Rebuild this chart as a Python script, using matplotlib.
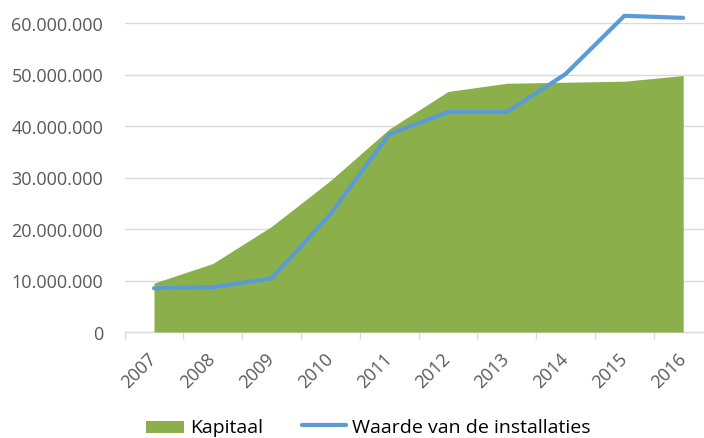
import matplotlib
matplotlib.use("Agg")
import matplotlib.pyplot as plt
from matplotlib.legend_handler import HandlerPatch
from matplotlib.patches import Rectangle, Patch
import numpy as np

years = ["2007", "2008", "2009", "2010", "2011", "2012", "2013", "2014", "2015", "2016"]
kapitaal = [9.5e6, 13.3e6, 20.5e6, 29.4e6, 39.4e6, 46.7e6, 48.3e6, 48.5e6, 48.7e6, 49.8e6]
waarde = [8.5e6, 8.7e6, 10.4e6, 22.9e6, 38.4e6, 42.7e6, 42.7e6, 50.1e6, 61.4e6, 61.0e6]
yticks = [0, 10e6, 20e6, 30e6, 40e6, 50e6, 60e6]
ytick_labels = ["0", "10.000.000", "20.000.000", "30.000.000", "40.000.000", "50.000.000", "60.000.000"]

plt.rcParams['font.family'] = ['Open Sans', 'DejaVu Sans']

W, H = 704, 439
fig = plt.figure(figsize=(W / 100, H / 100), dpi=100)
left_px, right_px, bottom_px, top_px = 124.6, 712.6, 333, 24
ax = fig.add_axes([left_px / W, 1 - bottom_px / H, (right_px - left_px) / W, (bottom_px - top_px) / H])

x = np.arange(len(years))
green = '#8BB04B'
blue = '#5B9BD5'
ax.fill_between(x, 0, kapitaal, color=green, linewidth=0, zorder=2)
line, = ax.plot(x, waarde, color=blue, linewidth=3, solid_capstyle='round', solid_joinstyle='round',
                zorder=3, clip_on=False)

ax.set_xlim(-0.5, len(years) - 0.5)
ax.set_ylim(0, 60e6)

for s in ['top', 'right', 'left']:
    ax.spines[s].set_visible(False)
ax.spines['bottom'].set_color('#D9D9D9')
ax.spines['bottom'].set_linewidth(1)
ax.spines['bottom'].set_zorder(1)

ax.set_yticks(yticks)
ax.set_yticklabels(ytick_labels, fontsize=13, color='#595959')
ax.tick_params(axis='y', length=0, pad=15.5)
for yv in yticks[1:]:
    ax.axhline(yv, color='#D9D9D9', linewidth=1, zorder=1)

ax.set_xticks(np.arange(-0.5, len(years), 1.0))
ax.set_xticklabels([])
ax.tick_params(axis='x', which='major', length=5, color='#D9D9D9', width=1)
ax.set_xticks(x, minor=True)
ax.set_xticklabels(years, minor=True, rotation=45, ha='right', va='center',
                   rotation_mode='anchor', fontsize=13, color='#595959')
ax.tick_params(axis='x', which='minor', length=0, pad=17)


def narrow_patch(legend, orig_handle, xdescent, ydescent, width, height, fontsize):
    pw = 38 * 72 / 100
    ph = 12 * 72 / 100
    return Rectangle((width - pw - xdescent, -ydescent + (height - ph) / 2 - 1), pw, ph)


green_proxy = Patch(facecolor=green, edgecolor='none')
leg = fig.legend([green_proxy, line], ['Kapitaal', 'Waarde van de installaties'],
                 loc='center', bbox_to_anchor=(365 / W, 1 - 428 / H),
                 ncol=2, frameon=False, fontsize=14, handlelength=2.3, handletextpad=0.3,
                 columnspacing=2.0, borderaxespad=0, borderpad=0,
                 handler_map={Patch: HandlerPatch(patch_func=narrow_patch)})
for t in leg.get_texts():
    t.set_color('#000000')

fig.savefig('out.png', dpi=100)
